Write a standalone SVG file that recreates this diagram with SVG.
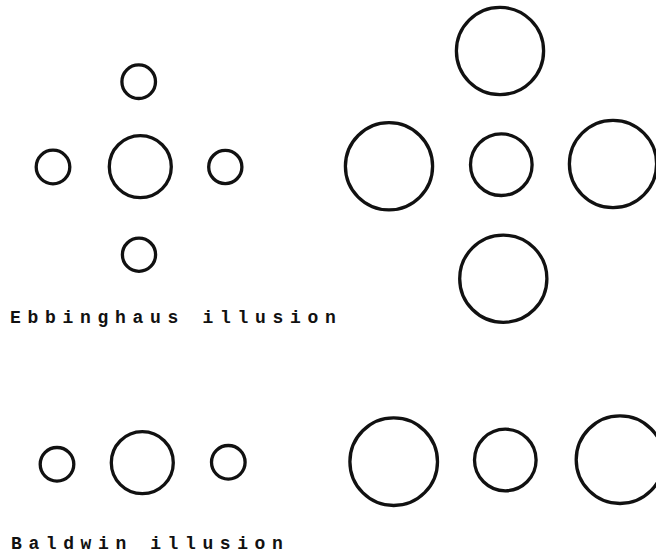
<svg xmlns="http://www.w3.org/2000/svg" width="656" height="554" viewBox="0 0 656 554">
  <style>
    .ring { fill: none; stroke: #111; stroke-width: 3.3; }
    .caption { font-family: "Liberation Mono", "DejaVu Sans Mono", monospace; font-size: 18px; font-weight: bold; fill: #111; }
  </style>
  <rect width="656" height="554" fill="#fff"/>

  <!-- Ebbinghaus: small centre ringed by smaller circles -->
  <g id="ebbinghaus-small-surround">
    <circle id="eb-left-center" class="ring" cx="140.3" cy="166.7" r="31"/>
    <circle id="eb-left-top" class="ring" cx="138.7" cy="81.7" r="16.8"/>
    <circle id="eb-left-left" class="ring" cx="53" cy="167" r="16.8"/>
    <circle id="eb-left-right" class="ring" cx="225.3" cy="167" r="16.6"/>
    <circle id="eb-left-bottom" class="ring" cx="139" cy="254.7" r="16.6"/>
  </g>

  <!-- Ebbinghaus: same centre ringed by large circles -->
  <g id="ebbinghaus-large-surround">
    <circle id="eb-right-center" class="ring" cx="501.3" cy="164.7" r="30.8"/>
    <circle id="eb-right-top" class="ring" cx="500" cy="51" r="43.6"/>
    <circle id="eb-right-left" class="ring" cx="389" cy="166.3" r="43.6"/>
    <circle id="eb-right-right" class="ring" cx="613" cy="164" r="43.6"/>
    <circle id="eb-right-bottom" class="ring" cx="503.3" cy="278.7" r="43.6"/>
  </g>

  <g id="ebbinghaus-label">
    <text class="caption" x="10" y="322.7" letter-spacing="6.7">Ebbinghaus illusion</text>
  </g>

  <!-- Baldwin: centre flanked by small circles -->
  <g id="baldwin-small-flank">
    <circle id="bw-left-small-l" class="ring" cx="57" cy="464.3" r="16.8"/>
    <circle id="bw-left-center" class="ring" cx="142.3" cy="462.7" r="31"/>
    <circle id="bw-left-small-r" class="ring" cx="228.3" cy="462.3" r="16.8"/>
  </g>

  <!-- Baldwin: centre flanked by large circles -->
  <g id="baldwin-large-flank">
    <circle id="bw-right-large-l" class="ring" cx="393.7" cy="461.7" r="43.8"/>
    <circle id="bw-right-center" class="ring" cx="505.3" cy="460" r="30.8"/>
    <circle id="bw-right-large-r" class="ring" cx="620" cy="459.7" r="43.8"/>
  </g>

  <g id="baldwin-label">
    <text class="caption" x="11" y="549" letter-spacing="6.6">Baldwin illusion</text>
  </g>
</svg>
